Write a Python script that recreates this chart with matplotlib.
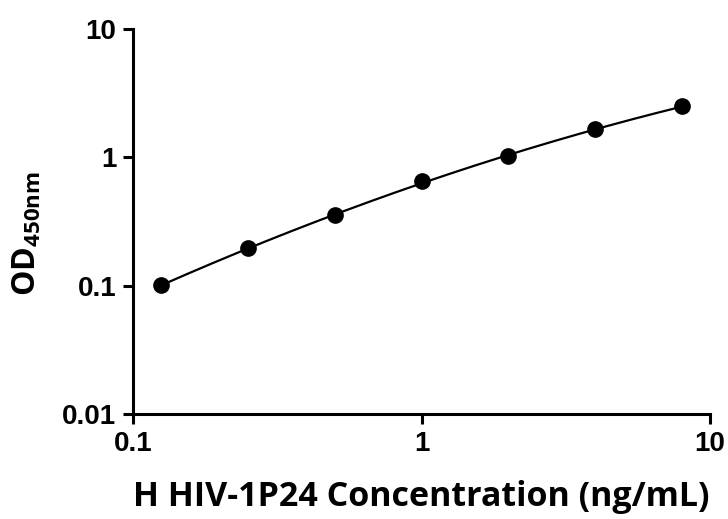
import numpy as np
import matplotlib
matplotlib.use("Agg")
import matplotlib.pyplot as plt

plt.rcParams["mathtext.fontset"] = "custom"
plt.rcParams["mathtext.bf"] = "Open Sans:bold"
plt.rcParams["mathtext.rm"] = "Open Sans"

conc = [0.125, 0.25, 0.5, 1, 2, 4, 8]
od450 = [0.1005, 0.195, 0.353, 0.65, 1.02, 1.65, 2.50]
x_ticks = [0.1, 1, 10]
x_tick_labels = ["0.1", "1", "10"]
y_ticks = [0.01, 0.1, 1, 10]
y_tick_labels = ["0.01", "0.1", "1", "10"]

fig = plt.figure(figsize=(7.28, 5.19), dpi=100)
ax = fig.add_axes([0.1827, 0.2023, 0.7926, 0.7417])

lx = np.log10(conc)
ly = np.log10(od450)
coef = np.polyfit(lx, ly, 2)
xf = np.logspace(np.log10(conc[0]), np.log10(conc[-1]), 200)
yf = 10 ** np.polyval(coef, np.log10(xf))
ax.plot(xf, yf, color="black", lw=1.6, zorder=2)
ax.plot(conc, od450, "o", color="black", ms=11, zorder=3, clip_on=False)

ax.set_xscale("log")
ax.set_yscale("log")
ax.set_xlim(0.1, 10)
ax.set_ylim(0.01, 10)
ax.minorticks_off()
tfont = dict(family="Liberation Sans", weight="bold", size=20)
ax.set_xticks(x_ticks)
ax.set_xticklabels(x_tick_labels, fontdict=tfont)
ax.set_yticks(y_ticks)
ax.set_yticklabels(y_tick_labels, fontdict=tfont)
ax.minorticks_off()

for s in ["top", "right"]:
    ax.spines[s].set_visible(False)
for s in ["left", "bottom"]:
    ax.spines[s].set_linewidth(2.2)

ax.tick_params(axis="both", which="major", direction="out", length=7, width=2.2, pad=5)

ax.set_xlabel("H HIV-1P24 Concentration (ng/mL)", fontsize=24.5, fontweight="bold",
              family="Open Sans", labelpad=17)
ax.set_ylabel(r"OD$_{\mathbf{450nm}}$", fontsize=23, fontweight="bold",
              family="Open Sans")
ax.yaxis.set_label_coords(-0.155, 0.47)

fig.savefig("out.png", dpi=100)
